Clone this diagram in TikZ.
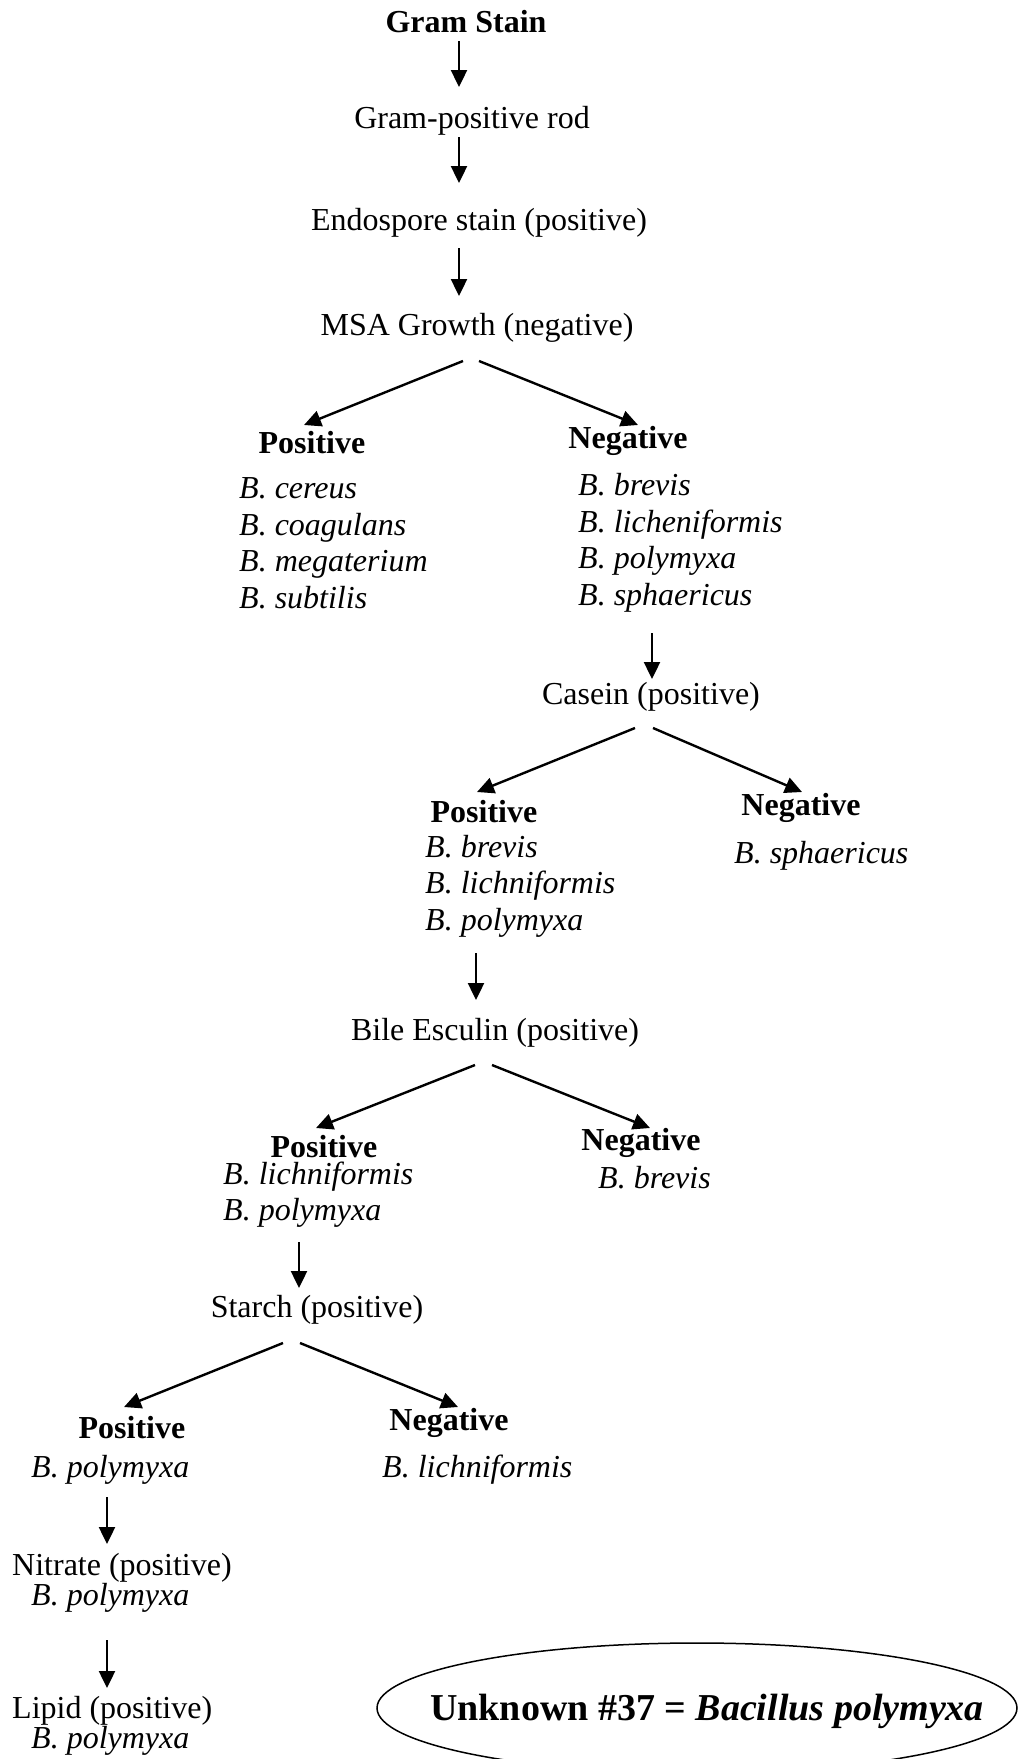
\documentclass[tikz,border=0pt]{standalone}
\usepackage{fontspec}
\setmainfont{Liberation Serif}
\usetikzlibrary{arrows.meta,calc,shapes.geometric}
\newcommand\fsz{\fontsize{32pt}{38pt}\selectfont}
\newcommand\fszbig{\fontsize{38pt}{44pt}\selectfont}
\begin{document}
\begin{tikzpicture}[x=1pt,y=-1pt,
  txt/.style={inner sep=0pt, anchor=base, font=\fsz},
  hd/.style={inner sep=0pt, anchor=base, font=\fsz\bfseries},
  sp/.style={inner sep=0pt, anchor=base west, font=\fsz\itshape},
  lft/.style={inner sep=0pt, anchor=base west, font=\fsz},
  arr/.style={line width=2.4pt, -{Triangle[length=17pt,width=16pt]}},
  resshape/.style={draw, ellipse, line width=1.5pt, minimum width=640pt, minimum height=130pt, inner sep=0pt}]
\useasboundingbox (0,0) rectangle (1020,1759);
% top chain
\node[hd] (gram) at (466,32) {Gram Stain};
\node[txt] (grampos) at (472,128) {Gram-positive rod};
\node[txt] (endo) at (479,230) {Endospore stain (positive)};
\node[txt] (msa) at (477,335) {MSA Growth (negative)};
% MSA branches
\node[hd] (p1) at (312,453) {Positive};
\node[hd] (n1) at (628,448) {Negative};
\node[sp] (p1a) at (239,498) {B. cereus};
\node[sp] (p1b) at (239,535) {B. coagulans};
\node[sp] (p1c) at (239,571) {B. megaterium};
\node[sp] (p1d) at (239,608) {B. subtilis};
\node[sp] (n1a) at (578,495) {B. brevis};
\node[sp] (n1b) at (578,532) {B. licheniformis};
\node[sp] (n1c) at (578,568) {B. polymyxa};
\node[sp] (n1d) at (578,605) {B. sphaericus};
% Casein
\node[txt] (casein) at (651,704) {Casein (positive)};
\node[hd] (p2) at (484,822) {Positive};
\node[hd] (n2) at (801,815) {Negative};
\node[sp] (p2a) at (425,857) {B. brevis};
\node[sp] (p2b) at (425,893) {B. lichniformis};
\node[sp] (p2c) at (425,930) {B. polymyxa};
\node[sp] (n2a) at (734,863) {B. sphaericus};
% Bile Esculin
\node[txt] (bile) at (495,1040) {Bile Esculin (positive)};
\node[hd] (p3) at (324,1157) {Positive};
\node[hd] (n3) at (641,1150) {Negative};
\node[sp] (p3a) at (223,1184) {B. lichniformis};
\node[sp] (p3b) at (223,1220) {B. polymyxa};
\node[sp] (n3a) at (598,1188) {B. brevis};
% Starch
\node[txt] (starch) at (317,1317) {Starch (positive)};
\node[hd] (p4) at (132,1438) {Positive};
\node[hd] (n4) at (449,1430) {Negative};
\node[sp] (p4a) at (31,1477) {B. polymyxa};
\node[sp] (n4a) at (382,1477) {B. lichniformis};
% Nitrate, Lipid
\node[lft] (nitrate) at (12,1575) {Nitrate (positive)};
\node[sp] (nitratesp) at (31,1605) {B. polymyxa};
\node[lft] (lipid) at (12,1718) {Lipid (positive)};
\node[sp] (lipidsp) at (31,1748) {B. polymyxa};
% result
\node[resshape] (resbox) at (697,1708) {};
\node[inner sep=0pt, anchor=base west, font=\fszbig\bfseries] (res) at (430,1720) {Unknown \#37 = \textit{Bacillus polymyxa}};
% connectors
\draw[arr] ($(gram.base)+(-7,9)$) -- ($(grampos.base)+(-13,-41)$);
\draw[arr] ($(grampos.base)+(-13,9)$) -- ($(endo.base)+(-20,-47)$);
\draw[arr] ($(endo.base)+(-20,18)$) -- ($(msa.base)+(-18,-39)$);
\draw[arr] ($(msa.base)+(-14,26)$) -- ($(p1.base)+(-8,-28)$);
\draw[arr] ($(msa.base)+(2,26)$) -- ($(n1.base)+(10,-23)$);
\draw[arr] ($(n1d.base west)+(74,28)$) -- ($(casein.base)+(1,-25)$);
\draw[arr] ($(casein.base)+(-16,24)$) -- ($(p2.base)+(-7,-30)$);
\draw[arr] ($(casein.base)+(2,24)$) -- ($(n2.base)+(1,-23)$);
\draw[arr] ($(p2c.base west)+(51,23)$) -- ($(bile.base)+(-19,-40)$);
\draw[arr] ($(bile.base)+(-20,25)$) -- ($(p3.base)+(-8,-29)$);
\draw[arr] ($(bile.base)+(-3,25)$) -- ($(n3.base)+(9,-22)$);
\draw[arr] ($(p3b.base west)+(76,22)$) -- ($(starch.base)+(-18,-29)$);
\draw[arr] ($(starch.base)+(-34,26)$) -- ($(p4.base)+(-8,-31)$);
\draw[arr] ($(starch.base)+(-17,26)$) -- ($(n4.base)+(9,-23)$);
\draw[arr] ($(p4a.base west)+(76,20)$) -- ($(nitrate.base west)+(95,-31)$);
\draw[arr] ($(nitratesp.base west)+(76,35)$) -- ($(lipid.base west)+(95,-30)$);
\end{tikzpicture}
\end{document}
